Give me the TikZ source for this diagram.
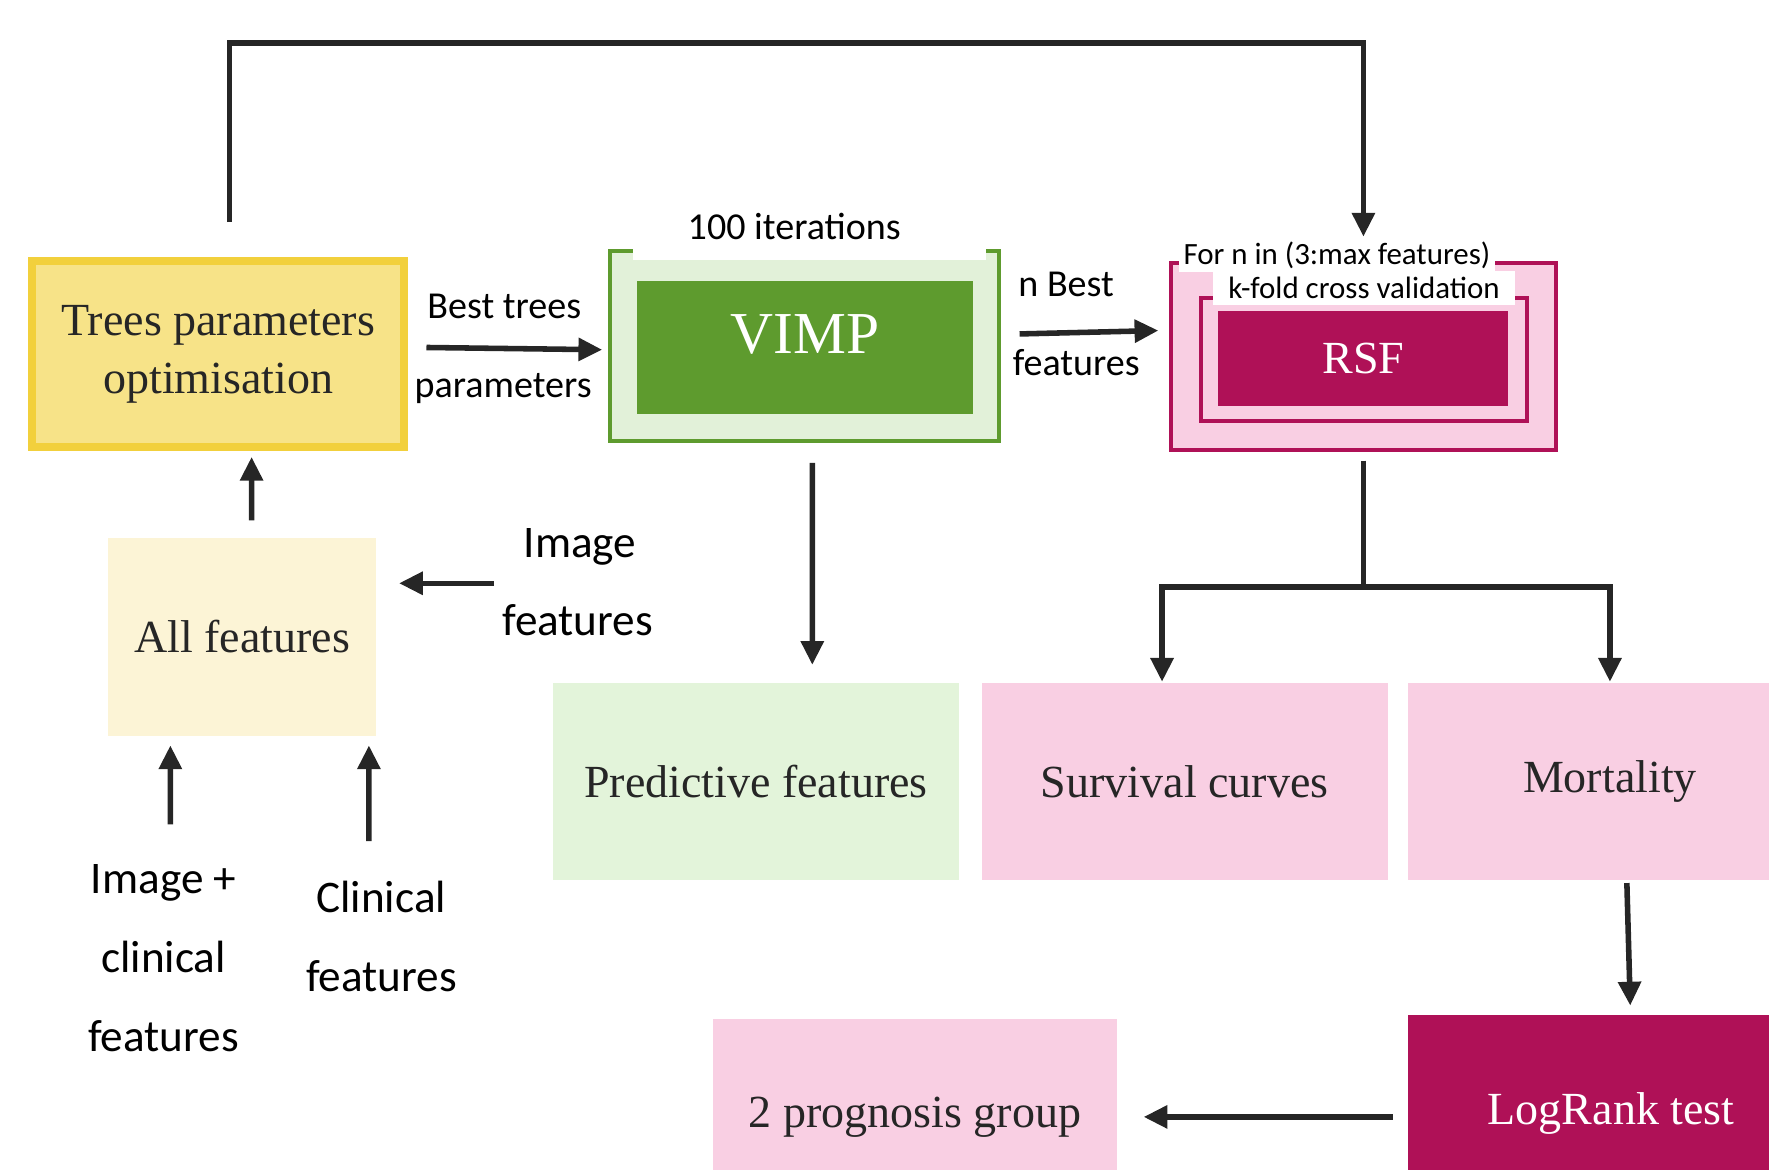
\documentclass[tikz,border=0pt]{standalone}
\usepackage{fontspec}
\setmainfont{Liberation Serif}
\newfontfamily\calfont{Carlito}
\usetikzlibrary{arrows.meta,positioning}

\definecolor{ink}{HTML}{262626}
\definecolor{gold}{HTML}{F2D03C}
\definecolor{yellowfill}{HTML}{F7E388}
\definecolor{allfill}{HTML}{FCF4D6}
\definecolor{vimplight}{HTML}{E2F1D9}
\definecolor{vimpgreen}{HTML}{5E9B2E}
\definecolor{greenfill}{HTML}{E3F4DA}
\definecolor{pinkfill}{HTML}{F9CFE3}
\definecolor{rsfred}{HTML}{AF1157}

\begin{document}
\begin{tikzpicture}[
    box/.style={rectangle, inner sep=0pt, align=center, text=ink,
                font=\fontsize{11.6}{14.8}\selectfont},
    lbl/.style={inner sep=1pt, text=black, text height=1.6ex, text depth=0.3ex,
                font=\calfont\fontsize{9.6}{11}\selectfont},
    biglbl/.style={inner sep=1pt, text=black, text height=1.6ex, text depth=0.3ex,
                font=\calfont\fontsize{11.4}{13}\selectfont},
    stack/.style={align=center, text=black,
                font=\calfont\fontsize{11.4}{19.9}\selectfont},
    tinylbl/.style={inner sep=1pt, fill=white, text=black,
                font=\calfont\fontsize{7.8}{9}\selectfont},
    arr/.style={-{Triangle[length=6pt,width=5.6pt]}, line width=1.4pt, draw=ink},
    link/.style={line width=1.4pt, draw=ink}
  ]
  \path[use as bounding box, clip] (0,0) rectangle (15.68,-10.37);

  \node[box, minimum width=3.30cm, minimum height=1.65cm, fill=yellowfill,
        draw=gold, line width=2pt] (trees) at (1.935,-3.14) {Trees parameters\\optimisation};

  \node[box, minimum width=3.43cm, minimum height=1.67cm, fill=vimplight] (vimpbox) at (7.13,-3.07) {};
  \fill[white] ([xshift=0.2cm]vimpbox.north west) rectangle ([xshift=-0.11cm,yshift=-0.08cm]vimpbox.north east);
  \draw[vimpgreen, line width=1pt] ([xshift=0.2cm]vimpbox.north west) -- (vimpbox.north west)
    -- (vimpbox.south west) -- (vimpbox.south east) -- (vimpbox.north east) -- ([xshift=-0.11cm]vimpbox.north east);
  \node[box, minimum width=2.97cm, minimum height=1.18cm, fill=vimpgreen, text=white,
        font=\fontsize{15}{18}\selectfont, text depth=0.24cm] (vimp) at (7.135,-3.08) {VIMP};
  \node[lbl] (iter) at (7.04,-2.02) {100 iterations};

  \node[box, minimum width=3.42cm, minimum height=1.65cm, fill=pinkfill,
        draw=rsfred, line width=1pt] (rsfout) at (12.085,-3.16) {};
  \node[box, minimum width=2.89cm, minimum height=1.09cm, fill=pinkfill,
        draw=rsfred, line width=1pt] (kfold) at (12.09,-3.19) {};
  \node[box, minimum width=2.57cm, minimum height=0.84cm, fill=rsfred, text=white] (rsf) at (12.085,-3.18) {RSF};
  \node[tinylbl, minimum width=2.80cm] (forlbl) at (11.85,-2.26) {For n in (3:max features)};
  \node[tinylbl, minimum width=2.68cm, minimum height=0.30cm] (kflbl) at (12.09,-2.55) {k-fold cross validation};

  \node[box, minimum width=3.60cm, minimum height=1.75cm, fill=greenfill] (pred) at (6.70,-6.925) {Predictive features};
  \node[box, minimum width=3.60cm, minimum height=1.75cm, fill=pinkfill] (surv) at (10.50,-6.925) {Survival curves};
  \node[box, minimum width=3.58cm, minimum height=1.75cm, fill=pinkfill] (mort) at (14.27,-6.925) {Mortality};
  \node[box, minimum width=3.60cm, minimum height=1.74cm, fill=rsfred, text=white] (logrank) at (14.28,-9.87) {LogRank test};
  \node[box, minimum width=3.58cm, minimum height=1.74cm, fill=pinkfill] (prog) at (8.11,-9.90) {2 prognosis group};
  \node[box, minimum width=2.37cm, minimum height=1.75cm, fill=allfill] (allfeat) at (2.145,-5.645) {All features};

  \node[lbl] (besttrees) at (4.47,-2.72) {Best trees};
  \node[lbl] (bestparams) at (4.46,-3.42) {parameters};
  \node[lbl] (nbest) at (9.45,-2.52) {n Best};
  \node[lbl] (nfeat) at (9.54,-3.22) {features};
  \node[biglbl] (imglbl) at (5.14,-4.84) {Image};
  \node[biglbl] (imgfeat) at (5.12,-5.53) {features};
  \coordinate (imgin) at (4.38,-5.17);
  \node[stack] (imgclin) at (1.45,-8.49) {Image +\\clinical\\features};
  \node[stack] (clin) at (3.38,-8.30) {Clinical\\features};

  \draw[arr] ([shift={(0.1,0.31)}]trees.north) -- ++(0,1.59) -| ([yshift=0.22cm]rsfout.north);
  \draw[arr] ([shift={(0.16,0.06)}]trees.east) -- ([shift={(-0.07,-0.03)}]vimpbox.west);
  \draw[arr] ([shift={(0.185,0.11)}]vimpbox.east) -- ([shift={(-0.09,0.23)}]rsfout.west);
  \draw[arr] ([shift={(0.07,-0.19)}]vimpbox.south) -- ([shift={(0.5,0.15)}]pred.north);
  \draw[link] ([yshift=-0.08cm]rsfout.south) -- ++(0,-1.12) coordinate (split);
  \draw[arr] (split) -| ([xshift=-0.2cm]surv.north);
  \draw[arr] (split) -| (mort.north);
  \draw[arr] ([shift={(0.15,-0.02)}]mort.south) -- ([shift={(0.17,0.08)}]logrank.north);
  \draw[arr] ([shift={(-0.13,-0.03)}]logrank.west) -- ([xshift=0.23cm]prog.east);
  \draw[arr] ([shift={(0.085,0.15)}]allfeat.north) -- ([shift={(0.295,-0.05)}]trees.south);
  \draw[arr] (imgin) -- ([shift={(0.2,0.475)}]allfeat.east);
  \draw[arr] ([shift={(0.06,0.23)}]imgclin.north) -- ([shift={(-0.635,-0.08)}]allfeat.south);
  \draw[arr] ([shift={(-0.11,0.23)}]clin.north) -- ([shift={(1.125,-0.08)}]allfeat.south);
\end{tikzpicture}
\end{document}
